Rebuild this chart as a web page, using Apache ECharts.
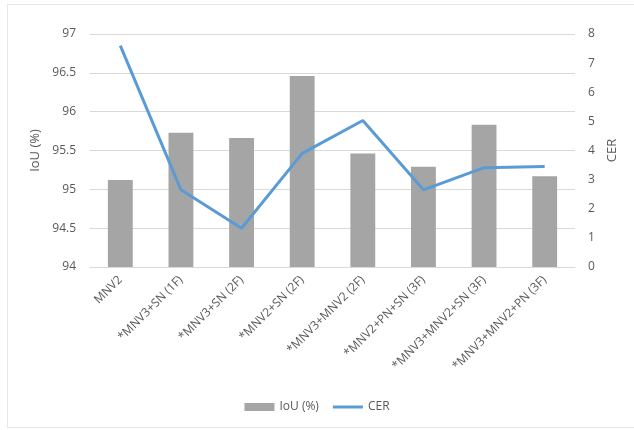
<!DOCTYPE html>
<html>
<head>
<meta charset="utf-8">
<script src="https://cdn.jsdelivr.net/npm/echarts@6/dist/echarts.min.js"></script>
<style>
  html, body { margin: 0; padding: 0; background: #fff; }
  #chart { width: 634px; height: 430px; }
</style>
</head>
<body>
<div id="chart"></div>
<script>
// Model variants on the horizontal axis
const categories = [
  'MNV2',
  '*MNV3+SN (1F)',
  '*MNV3+SN (2F)',
  '*MNV2+SN (2F)',
  '*MNV3+MNV2 (2F)',
  '*MNV2+PN+SN (3F)',
  '*MNV3+MNV2+SN (3F)',
  '*MNV3+MNV2+PN (3F)'
];
// IoU in percent (bars, left axis)
const iouValues = [95.12, 95.73, 95.66, 96.46, 95.46, 95.29, 95.83, 95.17];
// Character error rate (line, right axis)
const cerValues = [7.6, 2.65, 1.33, 3.9, 5.03, 2.65, 3.41, 3.45];

const textColor = '#595959';
const gridColor = '#d9d9d9';

const chart = echarts.init(document.getElementById('chart'), null, { renderer: 'canvas' });
chart.setOption({
  animation: false,
  textStyle: { fontFamily: 'Open Sans, Liberation Sans, sans-serif' },
  graphic: [{
    type: 'rect',
    shape: { x: 7.5, y: 4.5, width: 640, height: 423 },
    style: { fill: 'none', stroke: '#e6e6e6', lineWidth: 1 },
    silent: true
  }],
  grid: { left: 90, right: 59, top: 34, bottom: 163, containLabel: false },
  legend: {
    bottom: 12,
    left: 'center',
    itemGap: 14,
    textStyle: { color: textColor, fontSize: 12 },
    data: [
      { name: 'IoU (%)', icon: 'rect', itemStyle: { color: '#a5a5a5' } },
      { name: 'CER', icon: 'path://M0,0L30,0L30,3L0,3Z', itemStyle: { color: '#5b9bd5' } }
    ],
    itemWidth: 30,
    itemHeight: 8
  },
  xAxis: {
    type: 'category',
    data: categories,
    axisTick: { show: false },
    axisLine: { lineStyle: { color: gridColor, width: 1 } },
    axisLabel: { color: textColor, fontSize: 12, rotate: 45, margin: 11, interval: 0 }
  },
  yAxis: [
    {
      type: 'value',
      min: 94,
      max: 97,
      interval: 0.5,
      name: 'IoU (%)',
      nameLocation: 'middle',
      nameGap: 44,
      nameTextStyle: { color: textColor, fontSize: 13 },
      axisLabel: { color: textColor, fontSize: 12, margin: 14 },
      axisLine: { show: false },
      axisTick: { show: false },
      splitLine: { lineStyle: { color: gridColor, width: 1 } }
    },
    {
      type: 'value',
      min: 0,
      max: 8,
      interval: 1,
      name: 'CER',
      nameLocation: 'middle',
      nameGap: 30,
      nameTextStyle: { color: textColor, fontSize: 13 },
      axisLabel: { color: textColor, fontSize: 12, margin: 13 },
      axisLine: { show: false },
      axisTick: { show: false },
      splitLine: { show: false }
    }
  ],
  series: [
    {
      name: 'IoU (%)',
      type: 'bar',
      data: iouValues,
      yAxisIndex: 0,
      barWidth: '41%',
      itemStyle: { color: '#a5a5a5' }
    },
    {
      name: 'CER',
      type: 'line',
      data: cerValues,
      yAxisIndex: 1,
      symbol: 'none',
      lineStyle: { color: '#5b9bd5', width: 3 },
      itemStyle: { color: '#5b9bd5' }
    }
  ]
});
</script>
</body>
</html>
